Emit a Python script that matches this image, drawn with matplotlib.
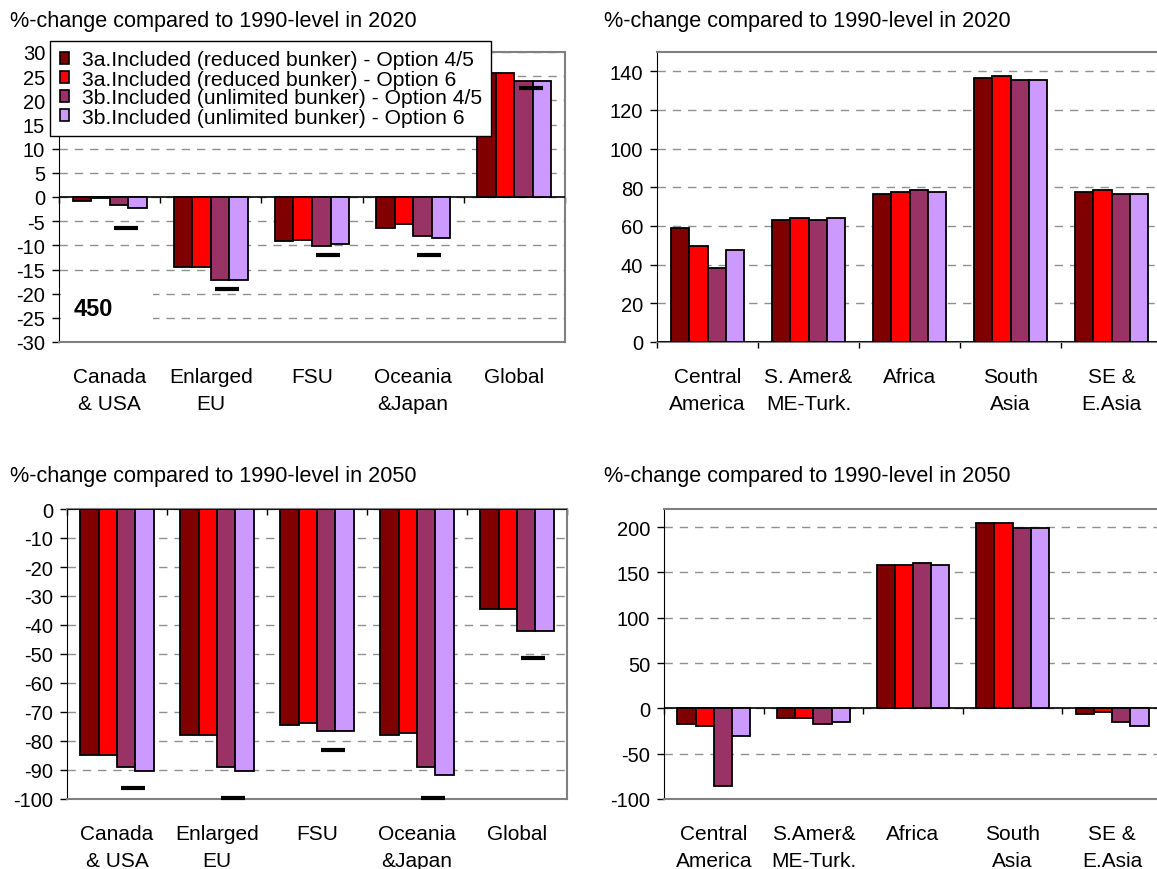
import numpy as np
import matplotlib.pyplot as plt
from matplotlib.patches import Patch, Rectangle

plt.rcParams['font.family'] = ['Liberation Sans', 'DejaVu Sans']
plt.rcParams['axes.unicode_minus'] = False

W, H = 1157, 870

series_names = ['3a.Included (reduced bunker) - Option 4/5',
                '3a.Included (reduced bunker) - Option 6',
                '3b.Included (unlimited bunker) - Option 4/5',
                '3b.Included (unlimited bunker) - Option 6']
colors = ['#800000', '#FF0000', '#993366', '#CC99FF']

north_labels = ['Canada\n& USA', 'Enlarged\nEU', 'FSU', 'Oceania\n&Japan', 'Global']
south_labels_2020 = ['Central\nAmerica', 'S. Amer&\nME-Turk.', 'Africa', 'South\nAsia', 'SE &\nE.Asia']
south_labels_2050 = ['Central\nAmerica', 'S.Amer&\nME-Turk.', 'Africa', 'South\nAsia', 'SE &\nE.Asia']

# rows follow series_names
north_2020 = [[-0.8, -14.4, -9.2, -6.4, 25.7],
              [-0.3, -14.4, -8.8, -5.5, 25.7],
              [-1.7, -17.1, -10.1, -8.1, 24.1],
              [-2.2, -17.1, -9.7, -8.5, 24.1]]
north_2020_target = [-6.5, -19.0, -12.0, -12.0, 22.6]

south_2020 = [[59.1, 63.1, 76.7, 136.7, 77.8],
              [49.8, 64.1, 77.6, 137.7, 78.6],
              [38.4, 63.1, 78.6, 135.7, 76.7],
              [47.7, 64.1, 77.6, 135.7, 76.7]]

north_2050 = [[-84.7, -77.9, -74.5, -77.9, -34.4],
              [-84.7, -77.9, -73.8, -77.2, -34.4],
              [-88.9, -88.9, -76.4, -88.9, -42.1],
              [-90.3, -90.3, -76.4, -91.6, -42.1]]
north_2050_target = [-96.2, -99.5, -83.1, -99.5, -51.4]

south_2050 = [[-17.6, -11.0, 158.5, 204.8, -6.6],
              [-19.8, -11.0, 158.5, 204.8, -4.0],
              [-85.5, -17.2, 160.7, 198.5, -15.4],
              [-30.5, -15.4, 158.5, 198.5, -19.4]]


def add_axes(fig, left, top, right, bottom):
    return fig.add_axes([left / W, 1 - bottom / H, (right - left) / W, (bottom - top) / H])


def draw_panel(ax, labels, values, ylim, yticks, target=None):
    x = np.arange(len(labels))
    width = 0.183
    for i, (vals, color) in enumerate(zip(values, colors)):
        ax.bar(x + (i - 1.5) * width, vals, width, color=color,
               edgecolor='black', linewidth=1.3, zorder=3)
    if target is not None:
        ax.plot(x + 0.16, target, ls='none', marker='_', ms=17, mew=3,
                color='black', zorder=4, clip_on=False)
    ax.set_xlim(-0.5, len(labels) - 0.5)
    ax.set_ylim(*ylim)
    ax.set_yticks(yticks)
    ax.yaxis.grid(True, ls=(0, (6, 5)), color='#909090', lw=1)
    ax.set_axisbelow(True)
    ax.axhline(0, color='black', lw=1.2, zorder=2.6)
    ax.set_xticks(x, labels)
    ax.tick_params(axis='x', length=0, pad=18, labelsize=15)
    ax.tick_params(axis='y', length=5, width=1, labelsize=14.5, pad=5)
    for lab in ax.get_xticklabels():
        lab.set_linespacing(1.55)
    y0 = (0 - ylim[0]) / (ylim[1] - ylim[0])
    ax.vlines(np.arange(-0.5, len(labels)), y0 - 0.02, y0,
              transform=ax.get_xaxis_transform(), color='black', lw=1, clip_on=False)
    for side in ['top', 'right', 'bottom']:
        ax.spines[side].set_color('#808080')
        ax.spines[side].set_linewidth(1.5)
    ax.spines['left'].set_color('black')


fig = plt.figure(figsize=(W / 100, H / 100), dpi=100)

ax1 = add_axes(fig, 59, 53, 565, 343)
draw_panel(ax1, north_labels, north_2020, (-30, 30), np.arange(-30, 31, 5), north_2020_target)
ax1.add_patch(Rectangle((0.003, 0.035), 0.183, 0.16, transform=ax1.transAxes,
                        facecolor='white', edgecolor='none', zorder=2.5))
ax1.text(0.028, 0.117, '450', transform=ax1.transAxes, fontsize=17,
         fontweight='bold', va='center', ha='left', zorder=5)

ax2 = add_axes(fig, 657, 53, 1162, 343)
draw_panel(ax2, south_labels_2020, south_2020, (0, 150), np.arange(0, 141, 20))

ax3 = add_axes(fig, 67, 510, 567, 800)
draw_panel(ax3, north_labels, north_2050, (-100, 0), np.arange(-100, 1, 10), north_2050_target)

ax4 = add_axes(fig, 664, 510, 1162, 800)
draw_panel(ax4, south_labels_2050, south_2050, (-100, 220), np.arange(-100, 201, 50))

title_2020 = '%-change compared to 1990-level in 2020'
title_2050 = '%-change compared to 1990-level in 2050'
fig.text(10 / W, 1 - 21 / H, title_2020, fontsize=15.6, va='center')
fig.text(604 / W, 1 - 21 / H, title_2020, fontsize=15.6, va='center')
fig.text(10 / W, 1 - 477 / H, title_2050, fontsize=15.6, va='center')
fig.text(604 / W, 1 - 477 / H, title_2050, fontsize=15.6, va='center')

handles = [Patch(facecolor=c, edgecolor='black', linewidth=1.2) for c in colors]
fig.legend(handles, series_names, loc='upper left',
           bbox_to_anchor=(50 / W, 1 - 42 / H), fontsize=15.2,
           frameon=True, fancybox=False, edgecolor='black', framealpha=1,
           handlelength=0.45, handleheight=0.55, handletextpad=0.6,
           labelspacing=0.0, borderpad=0.45, borderaxespad=0)

fig.savefig('out.png', dpi=100, facecolor='white')
